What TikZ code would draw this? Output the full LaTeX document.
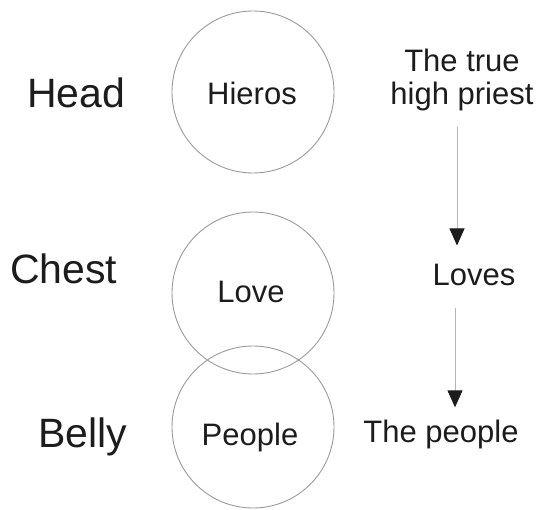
\documentclass[tikz,border=0pt]{standalone}
\usepackage{fontspec}
\setmainfont{Liberation Sans}
\usetikzlibrary{arrows.meta}
\definecolor{bodyink}{HTML}{1C1C1C}
\definecolor{bodyring}{HTML}{9A9A9A}
\definecolor{bodyline}{HTML}{B4B4B4}
\tikzset{
  ring/.style={circle, draw=bodyring, line width=0.9pt, minimum size=162pt, inner sep=0pt},
  part/.style={inner sep=0pt, anchor=base west, text=bodyink, font=\fontsize{41}{49}\selectfont},
  word/.style={inner sep=0pt, anchor=base, text=bodyink, font=\fontsize{31}{33}\selectfont},
  side/.style={word, align=center},
  arr/.style={-{Triangle[length=17pt, width=15pt, color=bodyink]}, line width=1pt, color=bodyline},
}
\begin{document}
\begin{tikzpicture}[x=1pt, y=-1pt]
    \useasboundingbox (0,0) rectangle (537,510);
    % three circles
    \node[ring] (headc) at (253,92) {};
    \node[ring] (chestc) at (253,293) {};
    \node[ring] (bellyc) at (253,427) {};
    \node[word] (hieros) at (252,105) {Hieros};
    \node[word] (love) at (251,302) {Love};
    \node[word] (ppl) at (250,445) {People};
    % body parts
    \node[part] (head) at (27,108) {Head};
    \node[part] (chest) at (10,283) {Chest};
    \node[part] (belly) at (38,447) {Belly};
    % right column
    \node[side] (priest) at (462,105) {The true\\high priest};
    \node[word] (loves) at (474,285) {Loves};
    \node[word] (thepeople) at (441,442) {The people};
    \draw[arr, shorten <=15pt, shorten >=18pt] ([xshift=-5pt]priest.south) -- ([xshift=-5pt]priest.south |- loves.north);
    \draw[arr, shorten <=22pt, shorten >=12pt] ([xshift=-19pt]loves.south) -- ([xshift=-19pt]loves.south |- thepeople.north);
  \end{tikzpicture}
\end{document}
